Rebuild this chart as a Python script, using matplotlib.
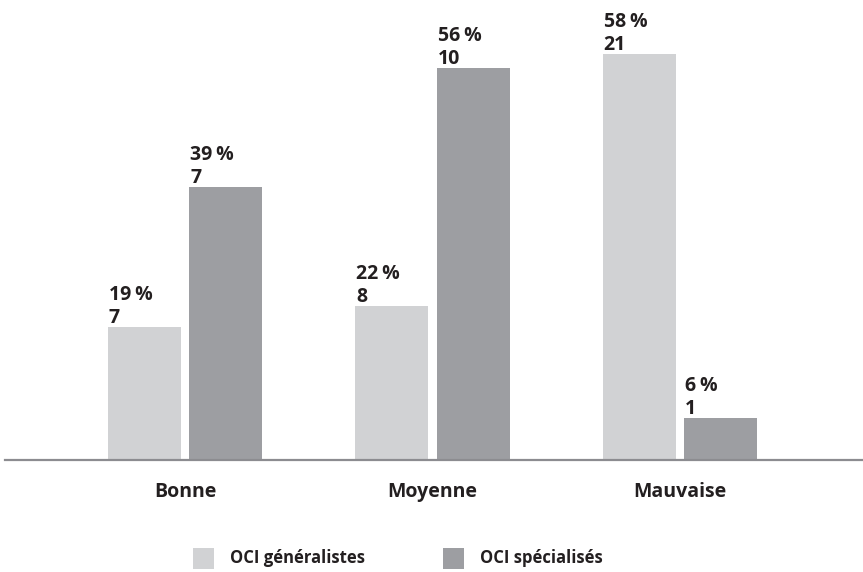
import matplotlib
matplotlib.use("Agg")
import matplotlib.pyplot as plt
from matplotlib.patches import Rectangle
import numpy as np

categories = ["Bonne", "Moyenne", "Mauvaise"]
series_names = ["OCI généralistes", "OCI spécialisés"]
pct_generalistes = [19, 22, 58]
pct_specialises = [39, 56, 6]
n_generalistes = [7, 8, 21]
n_specialises = [7, 10, 1]

colors = ["#d1d2d4", "#9d9ea2"]
text_color = "#231f20"
font = "Open Sans"

W, H = 863, 572
fig = plt.figure(figsize=(W / 100, H / 100), dpi=100)

# axes box in pixel terms: baseline 460 px from the top, left edge at 5 px
left_px, base_px = 5, 460
ax = fig.add_axes([left_px / W, (H - base_px) / H, (W - left_px) / W, base_px / H])

px_per_pct = 7.0
group_px = 247.5
first_center_px = 185
ax.set_ylim(0, base_px / px_per_pct)
ax.set_xlim((left_px - first_center_px) / group_px, (W - first_center_px) / group_px)

x = np.arange(len(categories))
width = 0.295
offset = 0.165

for vals, counts, off, col in [
    (pct_generalistes, n_generalistes, -offset, colors[0]),
    (pct_specialises, n_specialises, offset, colors[1]),
]:
    bars = ax.bar(x + off, vals, width=width, color=col, linewidth=0)
    for b, v, c in zip(bars, vals, counts):
        bx = b.get_x()
        ax.annotate(str(c), (bx, v), xytext=(1, 4), textcoords="offset pixels",
                    ha="left", va="baseline", fontsize=14, fontweight="bold",
                    family=font, color=text_color)
        ax.annotate(f"{v}\u2009%", (bx, v), xytext=(1, 27), textcoords="offset pixels",
                    ha="left", va="baseline", fontsize=14, fontweight="bold",
                    family=font, color=text_color)

ax.axhline(0, color="#8c8c90", linewidth=1.6, clip_on=False)
for s in ax.spines.values():
    s.set_visible(False)
ax.set_yticks([])
ax.set_xticks(x)
ax.set_xticklabels(categories, fontsize=14, fontweight="bold", family=font, color=text_color)
ax.tick_params(axis="x", length=0, pad=16)

# legend drawn as figure-level squares and labels
legend_items = [(193, series_names[0], colors[0]), (443, series_names[1], colors[1])]
sq = 21
cy = 558
for lx, name, col in legend_items:
    fig.patches.append(Rectangle((lx / W, (H - cy - sq / 2) / H), sq / W, sq / H,
                                 transform=fig.transFigure, color=col, linewidth=0))
    fig.text((lx + 37) / W, (H - cy) / H, name, ha="left", va="center",
             fontsize=12, fontweight="bold", family=font, color=text_color)

fig.savefig("out.png", dpi=100)
